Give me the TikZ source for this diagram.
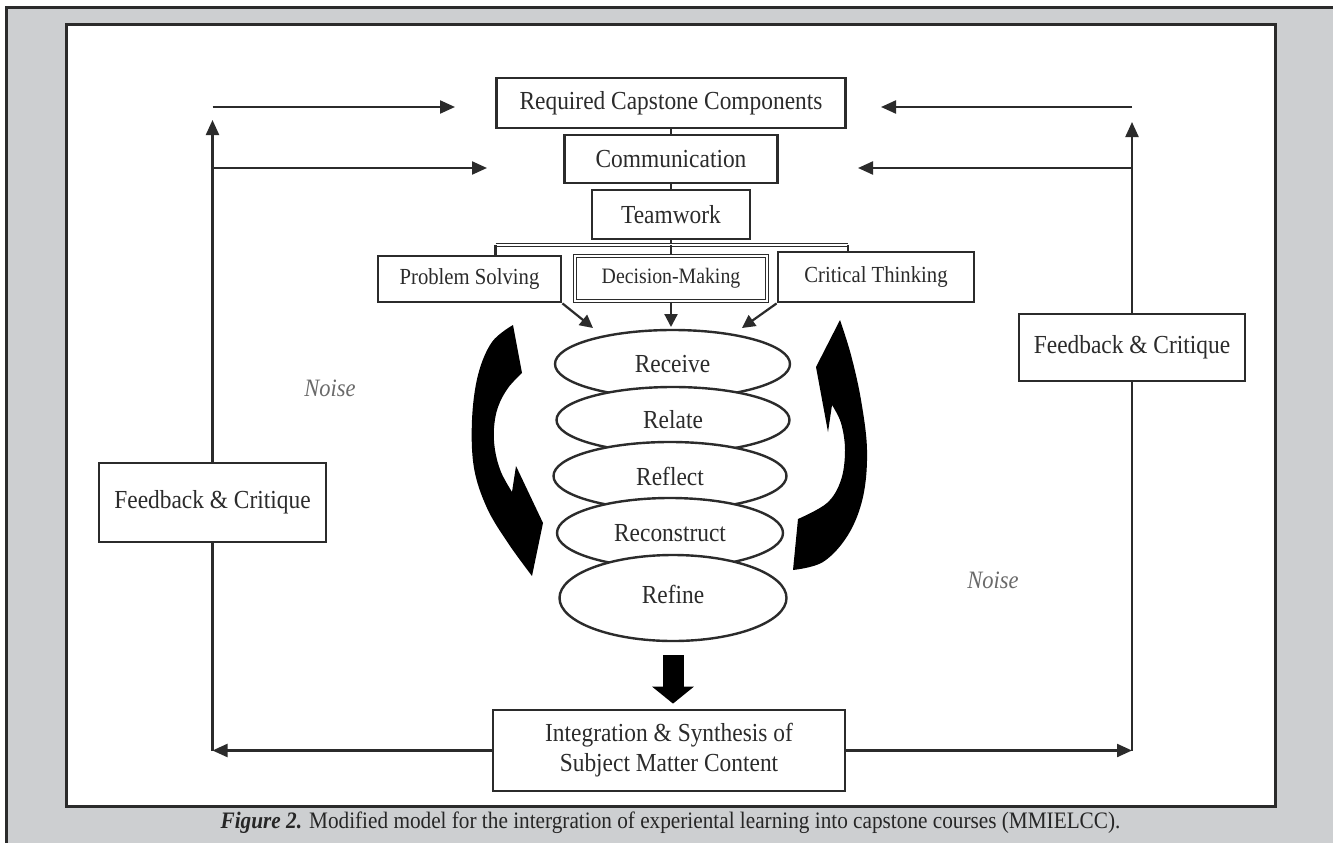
\documentclass[tikz,border=0pt]{standalone}
\usepackage{fontspec}
\setmainfont{Liberation Serif}[FakeStretch=0.9]
\usetikzlibrary{arrows.meta,shapes.geometric}
\definecolor{bggray}{HTML}{CDCFD1}
\definecolor{ink}{HTML}{2B2B2B}
\definecolor{noisegray}{HTML}{6A6A6A}
\tikzset{
  box/.style={draw=ink, line width=2.8pt, fill=white, rectangle, inner sep=0pt, text=ink, font=\fontsize{26}{30}\selectfont},
  oval/.style={draw=ink, line width=2.4pt, fill=white, ellipse, inner sep=0pt, text=ink, font=\fontsize{26}{30}\selectfont},
  conn/.style={draw=ink, line width=2.2pt},
  arr/.style={conn, -{Triangle[length=15pt,width=13pt]}},
  smallarr/.style={conn, -{Triangle[length=13pt,width=13pt]}},
  noise/.style={text=noisegray, font=\fontsize{25}{30}\selectfont\itshape},
}
\begin{document}
\begin{tikzpicture}[x=1pt,y=-1pt]
\useasboundingbox (0,0) rectangle (1333,843);
\fill[white] (0,0) rectangle (1333,843);
\fill[bggray] (6,8) rectangle (1333,843);
\draw[ink, line width=3pt] (6,843) -- (6,8) -- (1333,8);
\draw[ink, line width=3pt, fill=white] (66,25) rectangle (1275,806);

% top column of boxes
\node[box, minimum width=349pt, minimum height=50pt] (rcc) at (671,103) {Required Capstone Components};
\node[box, minimum width=213pt, minimum height=48pt] (comm) at (671,159) {Communication};
\node[box, minimum width=158pt, minimum height=49pt] (team) at (671,214.5) {Teamwork};
\draw[conn] (rcc.south) -- (comm.north);
\draw[conn] (comm.south) -- (team.north);

\coordinate (barL) at (495.5,245);
\coordinate (barM) at (671,245);
\coordinate (barR) at (848,245);
\draw[conn] (team.south) -- (barM);
\draw[ink, line width=1.7pt, double, double distance=1.2pt] (barL) -- (barR);

\node[box, font=\fontsize{23}{28}\selectfont, minimum width=183pt, minimum height=46pt] (ps) at (469.5,279) {Problem Solving};
\node[box, double, double distance=1.6pt, line width=1.6pt, font=\fontsize{22}{26}\selectfont, minimum width=192pt, minimum height=45pt] (dm) at (671,278.5) {Decision-Making};
\node[box, font=\fontsize{23}{28}\selectfont, minimum width=196pt, minimum height=50pt] (ct) at (876,277) {Critical Thinking};
\draw[conn] (barL) -- (barL |- ps.north);
\draw[conn] (barM) -- (dm.north);
\draw[conn] (barR) -- (barR |- ct.north);

% arrows into the spiral
\coordinate (psT) at (593,328);
\coordinate (dmT) at (671,327);
\coordinate (ctT) at (742,328);
\draw[smallarr] (ps.south east) -- (psT);
\draw[smallarr] (dm.south) -- (dmT);
\draw[smallarr] (ct.south west) -- (ctT);

% stacked ellipses
\node[oval, minimum width=235pt, minimum height=68pt] (rec) at (672.5,364) {\raisebox{-3pt}{Receive}};
\node[oval, minimum width=233pt, minimum height=66pt] (rel) at (673,420) {Relate};
\node[oval, minimum width=233pt, minimum height=68pt] (refl) at (670,476) {Reflect};
\node[oval, minimum width=226pt, minimum height=70pt] (recon) at (670,533) {Reconstruct};
\node[oval, minimum width=227pt, minimum height=86pt] (refi) at (673,598) {\raisebox{8pt}{Refine}};

% curved black arrows
\fill[black] plot[smooth, tension=0.6] coordinates {(513,325) (492,342) (478,375) (472,420) (474,468) (487,508) (508,543) (532,576)}
  -- (543,523) -- (516,466) -- (512,492)
  -- plot[smooth, tension=0.6] coordinates {(512,492) (501,472) (495,450) (494,428) (498,407) (508,388) (522,373)}
  -- cycle;
\fill[black] (840,320) -- (816,367) -- (828,432) -- (832,405)
  -- plot[smooth, tension=0.6] coordinates {(832,405) (841,423) (845,450) (841,480) (827,503) (798,519)}
  -- (793,570)
  -- plot[smooth, tension=0.6] coordinates {(793,570) (823,562) (848,535) (863,497) (867,450) (861,400) (851,355) (840,320)}
  -- cycle;

% integration box and big down arrow
\node[box, align=center, minimum width=352pt, minimum height=81pt] (integ) at (669,750.5) {Integration \& Synthesis of\\Subject Matter Content};
\draw[black, line width=21pt, -{Triangle[length=17pt,width=41pt]}, shorten <=13pt, shorten >=5pt] (refi.south) -- (refi.south |- integ.north);

% feedback loops
\node[box, minimum width=227pt, minimum height=79pt] (lfb) at (212.5,502.5) {\raisebox{3pt}{Feedback \& Critique}};
\node[box, minimum width=226pt, minimum height=67pt] (rfb) at (1132,347.5) {Feedback \& Critique};

\coordinate (cL) at (lfb.south |- integ.west);
\coordinate (cR) at (rfb.south |- integ.east);
\coordinate (lTop) at (212.5,120);
\coordinate (lTopS) at (212.5,107);
\coordinate (lMid) at (212.5,168);
\coordinate (rccL) at (455,107);
\coordinate (commL) at (487,168);
\coordinate (rTop) at (1132,122);
\coordinate (rTopS) at (1132,107);
\coordinate (rMid) at (1132,168);
\coordinate (rccR) at (881,107);
\coordinate (commR) at (858,168);

\draw[arr] (integ.west) -- (cL);
\draw[conn] (cL) -- (lfb.south);
\draw[arr] (lfb.north) -- (lTop);
\draw[arr] (lTopS) -- (rccL);
\draw[arr] (lMid) -- (commL);

\draw[arr] (integ.east) -- (cR);
\draw[conn] (cR) -- (rfb.south);
\draw[arr] (rfb.north) -- (rTop);
\draw[arr] (rTopS) -- (rccR);
\draw[arr] (rMid) -- (commR);

% noise labels
\node[noise] (noiseL) at (330,388) {Noise};
\node[noise] (noiseR) at (993,580) {Noise};

% caption
\node[text=black!85, font=\fontsize{23.6}{28}\selectfont] (cap) at (670.5,823) {\textbf{\textit{Figure 2.}} Modified model for the intergration of experiental learning into capstone courses (MMIELCC).};
\end{tikzpicture}
\end{document}
